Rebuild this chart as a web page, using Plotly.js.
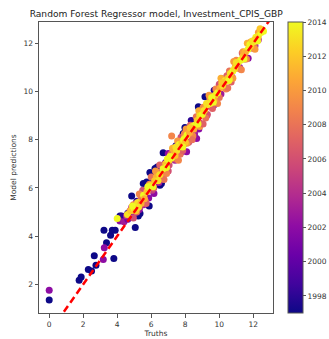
<!DOCTYPE html>
<html>
<head>
<meta charset="utf-8">
<script src="https://cdn.plot.ly/plotly-3.0.1.min.js"></script>
<style>
  html, body { margin: 0; padding: 0; background: #fff; }
  #chart { width: 329px; height: 339px; }
</style>
</head>
<body>
<div id="chart"></div>
<script>
// Observed values (truths), model output (predictions) and the year of each observation.
const truths = [
  // 1997
  0.00, 1.76, 1.88, 2.30, 2.49, 2.65, 2.75, 3.37, 3.80, 3.22, 3.61, 3.71, 3.88, 4.16, 4.55,
  5.06, 5.24, 5.34, 5.10, 5.88, 4.85, 5.53, 5.73, 5.92, 6.02, 6.22, 6.35, 6.51, 6.60, 6.70,
  7.88, 7.98, 8.77, 9.16, 10.18,
  // 1998-1999
  4.26, 4.40, 5.45, 6.85, 7.45, 8.35, 9.70, 4.62, 5.15, 6.10, 7.10, 8.90, 4.90, 5.60, 6.45, 7.70,
  // 2001-2003
  0.00, 3.18, 3.24, 4.16, 4.40, 4.75, 4.62, 5.05, 5.30, 5.55, 5.85, 6.16, 6.45, 6.90, 7.00,
  7.40, 7.75, 8.08, 8.55, 8.67, 8.80, 9.25, 9.70, 10.10, 10.65, 11.20, 11.70, 12.10,
  // 2004-2006
  4.55, 4.85, 5.10, 5.35, 5.60, 5.85, 6.05, 6.30, 6.55, 6.80, 7.05, 7.30, 7.60, 7.90, 8.20,
  8.50, 8.85, 9.20, 9.50, 9.85, 10.30, 10.75, 11.10, 11.50, 11.95, 12.30,
  4.95, 5.50, 6.50, 7.00, 7.75, 8.20, 9.30, 10.00, 10.70, 11.35,
  // 2007-2010
  4.75, 4.95, 5.15, 5.40, 5.65, 5.90, 6.15, 6.40, 6.65, 6.90, 7.20, 7.15, 7.40, 7.55, 7.70,
  7.95, 8.10, 8.30, 8.45, 8.65, 8.85, 9.05, 9.20, 9.45, 9.60, 9.80, 10.00, 10.20, 10.40, 10.60,
  10.80, 11.00, 11.20, 11.40, 11.60, 11.85, 12.05, 12.30, 6.00, 7.85, 8.95, 10.45,
  5.30, 5.70, 6.25, 6.75, 7.25, 7.60, 8.05, 8.40, 8.80, 9.05, 9.40, 9.90, 10.10, 10.50, 10.85,
  11.30, 11.65, 12.10,
  // 2011-2014
  4.00, 4.60, 4.80, 5.00, 5.20, 5.40, 5.55, 5.75, 5.95, 6.10, 6.30, 6.50, 6.70, 6.85, 7.05,
  7.20, 7.35, 7.50, 7.65, 7.80, 7.95, 8.10, 8.25, 8.40, 8.55, 8.70, 8.85, 9.00, 9.15, 9.30,
  9.45, 9.60, 9.75, 9.90, 10.05, 10.20, 10.35, 10.50, 10.65, 10.80, 10.95, 11.10, 11.25, 11.40, 11.55,
  11.70, 11.85, 12.00, 12.15, 12.30, 12.45, 12.55,
  5.10, 5.60, 6.20, 6.90, 7.40, 7.90, 8.50, 9.10, 9.70, 10.30, 10.90, 11.50, 12.10, 7.10, 8.00,
  9.55, 10.60, 11.80, 12.40,
  4.90, 5.25, 5.80, 6.40, 6.95, 7.45, 7.85, 8.30, 8.75, 9.25, 9.65, 10.15, 10.55, 11.00, 11.45,
  11.95, 12.25, 12.60
];

const predictions = [
  // 1997
  1.35, 2.17, 2.30, 2.62, 2.55, 3.19, 2.79, 3.72, 3.07, 4.24, 4.04, 4.24, 4.24, 4.83, 4.80,
  4.36, 4.84, 4.94, 5.14, 5.25, 5.66, 6.18, 6.25, 6.64, 6.60, 6.81, 6.87, 6.11, 6.18, 7.46,
  8.26, 8.51, 9.37, 9.78, 10.52,
  // 1998-1999
  4.83, 4.72, 5.62, 7.05, 7.75, 8.80, 10.05, 4.95, 5.45, 6.35, 7.30, 9.20, 5.05, 5.80, 6.70, 7.95,
  // 2001-2003
  1.75, 3.03, 3.52, 4.63, 4.60, 4.87, 4.70, 4.98, 5.10, 5.30, 5.58, 5.77, 6.22, 6.70, 7.43,
  7.15, 7.48, 7.50, 8.25, 8.05, 8.45, 9.00, 9.45, 9.90, 10.45, 11.00, 11.38, 11.90,
  // 2004-2006
  4.85, 5.20, 5.35, 5.25, 5.75, 6.10, 5.90, 6.45, 6.40, 7.00, 6.95, 7.55, 7.50, 7.80, 8.35,
  8.40, 8.70, 9.35, 9.40, 9.70, 10.20, 10.60, 11.25, 11.35, 11.80, 12.15,
  4.75, 5.90, 6.95, 6.70, 8.10, 7.90, 9.05, 10.30, 10.40, 11.60,
  // 2007-2010
  5.05, 5.30, 5.00, 5.55, 5.45, 6.15, 6.00, 6.65, 6.50, 6.60, 8.15, 7.40, 7.20, 7.95, 7.40,
  8.25, 7.85, 8.60, 8.15, 8.95, 8.55, 9.35, 8.90, 9.70, 9.30, 10.10, 9.75, 10.45, 10.10, 10.85,
  10.55, 11.30, 10.95, 11.65, 11.35, 12.05, 11.85, 12.45, 6.45, 7.55, 9.15, 10.65,
  5.75, 5.35, 6.70, 6.35, 7.65, 7.15, 8.45, 8.00, 9.20, 8.65, 9.85, 9.50, 10.55, 10.15, 11.25,
  10.90, 12.00, 11.75,
  // 2011-2014
  4.73, 4.90, 5.05, 5.15, 5.40, 5.35, 5.70, 5.85, 6.10, 6.05, 6.45, 6.55, 6.80, 7.00, 7.15,
  7.25, 7.50, 7.55, 7.80, 7.85, 8.05, 8.20, 8.30, 8.55, 8.60, 8.80, 9.00, 9.05, 9.25, 9.45,
  9.50, 9.70, 9.85, 9.95, 10.15, 10.25, 10.45, 10.55, 10.75, 10.85, 11.05, 11.20, 11.30, 11.45, 11.65,
  11.75, 11.90, 12.05, 12.25, 12.30, 12.45, 12.55,
  5.05, 5.55, 6.30, 6.85, 7.35, 8.00, 8.45, 9.20, 9.65, 10.40, 10.95, 11.60, 12.15, 7.30, 7.90,
  9.75, 10.50, 11.95, 12.60,
  5.25, 5.20, 6.05, 6.30, 7.20, 7.70, 7.70, 8.50, 8.65, 9.50, 9.55, 10.35, 10.45, 11.20, 11.35,
  12.10, 12.10, 12.50
];

const years = [
  // 1997
  1997, 1997, 1997, 1997, 1997, 1997, 1997, 1997, 1997, 1997, 1997, 1997, 1997, 1997, 1997,
  1997, 1997, 1997, 1997, 1997, 1997, 1997, 1997, 1997, 1997, 1997, 1997, 1997, 1997, 1997,
  1997, 1997, 1997, 1997, 1997,
  // 1998-1999
  1998, 1998, 1998, 1998, 1998, 1998, 1998, 1998, 1998, 1998, 1998, 1998, 1999, 1999, 1999, 1999,
  // 2001-2003
  2002, 2002, 2002, 2002, 2003, 2002, 2001, 2003, 2002, 2003, 2002, 2002, 2003, 2002, 2002,
  2003, 2002, 2002, 2003, 2002, 2002, 2003, 2002, 2003, 2002, 2003, 2002, 2003,
  // 2004-2006
  2004, 2005, 2004, 2005, 2006, 2004, 2005, 2006, 2004, 2005, 2006, 2004, 2005, 2006, 2004,
  2005, 2006, 2005, 2004, 2006, 2005, 2004, 2006, 2005, 2006, 2005,
  2006, 2006, 2007, 2006, 2006, 2006, 2006, 2006, 2007, 2007,
  // 2007-2010
  2008, 2009, 2007, 2008, 2010, 2009, 2007, 2008, 2010, 2009, 2009, 2008, 2007, 2010, 2008,
  2009, 2010, 2007, 2009, 2008, 2010, 2009, 2008, 2010, 2007, 2009, 2008, 2010, 2009, 2008,
  2010, 2009, 2008, 2010, 2009, 2010, 2008, 2010, 2008, 2007, 2009, 2007,
  2009, 2007, 2010, 2008, 2011, 2009, 2010, 2008, 2011, 2007, 2010, 2009, 2011, 2008, 2010,
  2009, 2011, 2010,
  // 2011-2014
  2014, 2013, 2012, 2014, 2013, 2011, 2014, 2012, 2013, 2014, 2011, 2013, 2014, 2012, 2013,
  2014, 2011, 2013, 2014, 2012, 2013, 2014, 2011, 2013, 2014, 2012, 2013, 2014, 2011, 2013,
  2014, 2012, 2013, 2014, 2011, 2013, 2014, 2012, 2013, 2014, 2011, 2013, 2014, 2012, 2013,
  2014, 2012, 2013, 2014, 2013, 2014, 2013,
  2012, 2011, 2012, 2014, 2012, 2014, 2011, 2013, 2011, 2012, 2013, 2011, 2012, 2014, 2012,
  2014, 2013, 2014, 2012,
  2014, 2013, 2014, 2013, 2014, 2013, 2014, 2012, 2014, 2013, 2014, 2012, 2014, 2013, 2014,
  2013, 2014, 2014
];

// Ends of the y = x reference line
const identityLine = [-1, 14];
const yearTicks = [1998, 2000, 2002, 2004, 2006, 2008, 2010, 2012, 2014];
const axisTicks = [0, 2, 4, 6, 8, 10, 12];

// matplotlib "plasma" colour map
const plasma = [
  [0.0, '#0d0887'], [0.1, '#41049d'], [0.2, '#6a00a8'], [0.3, '#8f0da4'],
  [0.4, '#b12a90'], [0.5, '#cc4778'], [0.6, '#e16462'], [0.7, '#f2844b'],
  [0.8, '#fca636'], [0.9, '#fcce25'], [1.0, '#f0f921']
];

const font = 'DejaVu Sans, sans-serif';
const frame = '#555555';
const small = { family: font, size: 7.5, color: '#333' };

const points = {
  type: 'scatter',
  mode: 'markers',
  x: truths,
  y: predictions,
  marker: {
    size: 7,
    color: years,
    colorscale: plasma,
    cmin: 1997,
    cmax: 2014,
    line: { width: 0 },
    colorbar: {
      x: 1.064, xanchor: 'left', xref: 'paper', xpad: 0,
      y: 0.5, yanchor: 'middle', len: 1, lenmode: 'fraction', ypad: 0,
      thickness: 15,
      outlinewidth: 1, outlinecolor: frame,
      tickvals: yearTicks,
      ticks: 'outside', ticklen: 3, tickcolor: frame,
      tickfont: small
    }
  },
  hoverinfo: 'x+y'
};

const diagonal = {
  type: 'scatter',
  mode: 'lines',
  x: identityLine,
  y: identityLine,
  line: { color: '#ff0000', width: 2.5, dash: '7px,4px' },
  hoverinfo: 'skip'
};

const axisStyle = {
  showgrid: false,
  zeroline: false,
  showline: true,
  mirror: true,
  linecolor: frame,
  linewidth: 1,
  ticks: 'outside',
  ticklen: 3.5,
  tickcolor: frame,
  tickvals: axisTicks,
  tickfont: small
};

const layout = {
  width: 329,
  height: 339,
  margin: { l: 39, r: 56, t: 22, b: 26, autoexpand: false },
  paper_bgcolor: '#ffffff',
  plot_bgcolor: '#ffffff',
  showlegend: false,
  title: {
    text: 'Random Forest Regressor model, Investment_CPIS_GBP',
    font: { family: font, size: 9.1, color: '#222' },
    x: 0.475, xanchor: 'center',
    y: 0.958, yref: 'container', yanchor: 'middle'
  },
  xaxis: Object.assign({}, axisStyle, {
    range: [-0.6, 13.16],
    automargin: false,
    title: { text: 'Truths', font: small, standoff: 3 }
  }),
  yaxis: Object.assign({}, axisStyle, {
    range: [0.81, 12.885],
    automargin: false,
    title: { text: 'Model predictions', font: small, standoff: 5 }
  })
};

Plotly.newPlot('chart', [points, diagonal], layout, { displayModeBar: false, staticPlot: true });
</script>
</body>
</html>
